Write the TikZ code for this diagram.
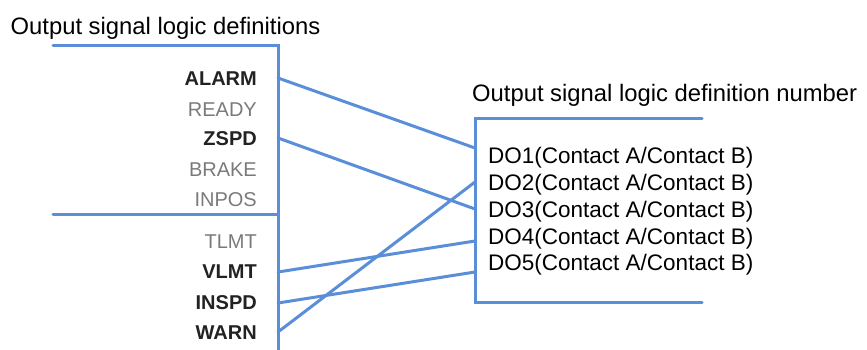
\documentclass[tikz,border=0pt]{standalone}
\usepackage{fontspec}
\setmainfont{Liberation Sans}
\definecolor{busblue}{HTML}{5B8ED8}
\definecolor{lblgray}{HTML}{7A7A7A}
\definecolor{lbldark}{HTML}{222222}
\begin{document}
\begin{tikzpicture}[x=1pt,y=-1pt,
  bus/.style={draw=busblue,line width=3pt,line cap=round},
  wire/.style={draw=busblue,line width=3pt,line cap=round},
  titletext/.style={inner sep=0pt,anchor=base west,font=\fontsize{23.8}{28}\selectfont},
  dotext/.style={inner sep=0pt,anchor=base west,font=\fontsize{22.5}{26}\selectfont},
  onlbl/.style={inner sep=0pt,anchor=base east,text=lbldark,font=\fontsize{20}{22}\selectfont\bfseries},
  offlbl/.style={inner sep=0pt,anchor=base east,text=lblgray,font=\fontsize{20}{22}\selectfont}]
\useasboundingbox (0,0) rectangle (867,350);
% titles
\node[titletext] (t1) at (10.5,35) {Output signal logic definitions};
\node[titletext] (t2) at (472,101.7) {Output signal logic definition number};
% left box
\draw[bus] (53,46) -- (278,46) -- (278,352);
\draw[bus] (53,214.5) -- (278,214.5);
% right box
\draw[bus] (702,119) -- (475,119) -- (475,302.5) -- (702,302.5);
% left labels
\node[onlbl]  (alarm) at (257,85.5) {ALARM};
\node[offlbl] (ready) at (257,116.4) {READY};
\node[onlbl]  (zspd)  at (257,146) {ZSPD};
\node[offlbl] (brake) at (257,176.2) {BRAKE};
\node[offlbl] (inpos) at (257,206.2) {INPOS};
\node[offlbl] (tlmt)  at (257,248.2) {TLMT};
\node[onlbl]  (vlmt)  at (257,278.2) {VLMT};
\node[onlbl]  (inspd) at (257,309.2) {INSPD};
\node[onlbl]  (warn)  at (257,339.2) {WARN};
% right labels
\node[dotext] (do1) at (488,164) {DO1(Contact A/Contact B)};
\node[dotext] (do2) at (488,190.5) {DO2(Contact A/Contact B)};
\node[dotext] (do3) at (488,217.5) {DO3(Contact A/Contact B)};
\node[dotext] (do4) at (488,244) {DO4(Contact A/Contact B)};
\node[dotext] (do5) at (488,270.5) {DO5(Contact A/Contact B)};
% connection points
\coordinate (pa) at (278,78);
\coordinate (pz) at (278,138);
\coordinate (pv) at (278,272);
\coordinate (pi) at (278,303);
\coordinate (pw) at (278,332);
\coordinate (q1) at (475,148);
\coordinate (q2) at (475,182);
\coordinate (q3) at (475,209);
\coordinate (q4) at (475,241);
\coordinate (q5) at (475,272);
\draw[wire] (pa) -- (q1);
\draw[wire] (pz) -- (q3);
\draw[wire] (pv) -- (q4);
\draw[wire] (pi) -- (q5);
\draw[wire] (pw) -- (q2);
\end{tikzpicture}
\end{document}
